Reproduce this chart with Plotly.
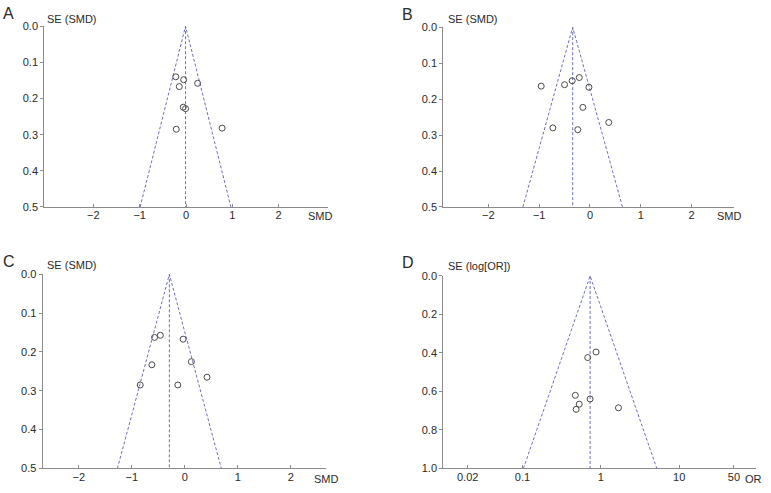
import numpy as np
import plotly.graph_objects as go

# ---------------- data ----------------
# Panel A (SMD)
a_smd = [-0.22, -0.05, -0.145, 0.25, -0.06, -0.01, -0.21, 0.78]
a_se = [0.140, 0.148, 0.167, 0.158, 0.224, 0.228, 0.285, 0.282]
a_summary = -0.01

# Panel B (SMD)
b_smd = [-0.96, -0.50, -0.35, -0.21, -0.02, -0.14, 0.37, -0.73, -0.24]
b_se = [0.164, 0.160, 0.149, 0.140, 0.167, 0.223, 0.265, 0.280, 0.285]
b_summary = -0.34

# Panel C (SMD)
c_smd = [-0.57, -0.46, -0.03, -0.62, 0.125, 0.42, -0.84, -0.13]
c_se = [0.1625, 0.157, 0.167, 0.233, 0.225, 0.265, 0.285, 0.285]
c_summary = -0.29

# Panel D (OR)
d_or = [0.87, 0.68, 0.473, 0.73, 0.53, 0.484, 1.68]
d_se = [0.395, 0.424, 0.620, 0.639, 0.666, 0.693, 0.685]
d_summary = 0.73

smd_ticks = [-2, -1, 0, 1, 2]
smd_ticklabels = ["\u22122", "\u22121", "0", "1", "2"]
se_ticks_smd = [0.0, 0.1, 0.2, 0.3, 0.4, 0.5]
or_ticks = [0.02, 0.1, 1, 10, 50]
or_ticklabels = ["0.02", "0.1", "1", "10", "50"]
se_ticks_or = [0.0, 0.2, 0.4, 0.6, 0.8, 1.0]
Z = 1.96

# ---------------- layout helpers ----------------
W, H = 771, 493
FONT = "Liberation Sans, Arial, sans-serif"
AXIS_COL = "#8a8a8a"
TXT = "#2a2a2a"
DASH_COL = "#6b70b8"


def dx(a, b):
    return [a / W, b / W]


def dy(top, bottom):
    return [1 - bottom / H, 1 - top / H]


fig = go.Figure()

panels = [
    ("1", a_smd, a_se, a_summary, 0.5, (44.3, 327.7), (20.7, 206), [-3.06, 3.06], False),
    ("2", b_smd, b_se, b_summary, 0.5, (443.3, 734.3), (21.7, 206), [-2.886, 2.84], False),
    ("3", c_smd, c_se, c_summary, 0.5, (42.7, 325.7), (275, 474), [-2.68, 2.66], False),
    ("4", d_or, d_se, d_summary, 1.0, (443.3, 756), (276.7, 474), [-2.01, 1.98], True),
]

for name, xs, ses, summ, semax, xd, yd, xr, is_log in panels:
    xa = "x" if name == "1" else "x" + name
    ya = "y" if name == "1" else "y" + name
    if is_log:
        lo = float(np.exp(np.log(summ) - Z * semax))
        hi = float(np.exp(np.log(summ) + Z * semax))
    else:
        lo = summ - Z * semax
        hi = summ + Z * semax
    fig.add_trace(go.Scatter(x=[lo, summ, hi], y=[semax, 0, semax], mode="lines",
                             line=dict(color=DASH_COL, width=1, dash="3px,2px"),
                             xaxis=xa, yaxis=ya, showlegend=False, hoverinfo="skip"))
    fig.add_trace(go.Scatter(x=[summ, summ], y=[0, semax], mode="lines",
                             line=dict(color=DASH_COL, width=1, dash="3px,2px"),
                             xaxis=xa, yaxis=ya, showlegend=False, hoverinfo="skip"))
    fig.add_trace(go.Scatter(x=xs, y=ses, mode="markers",
                             marker=dict(symbol="circle-open", size=6,
                                         color="#4a4a4a", line=dict(width=1, color="#4a4a4a")),
                             xaxis=xa, yaxis=ya, showlegend=False))

    xkey = "xaxis" if name == "1" else "xaxis" + name
    ykey = "yaxis" if name == "1" else "yaxis" + name
    xaxis = dict(domain=dx(*xd), range=xr, anchor=ya, showgrid=False, zeroline=False,
                 showline=True, linecolor=AXIS_COL, linewidth=1.2,
                 ticks="inside", ticklen=3, tickcolor=AXIS_COL,
                 ticklabelstandoff=-2,
                 tickfont=dict(family=FONT, size=11, color=TXT))
    if is_log:
        xaxis.update(type="log", tickvals=or_ticks, ticktext=or_ticklabels)
    else:
        xaxis.update(tickvals=smd_ticks, ticktext=smd_ticklabels)
    yaxis = dict(domain=dy(*yd), range=[semax, 0], anchor=xa, showgrid=False, zeroline=False,
                 showline=True, linecolor=AXIS_COL, linewidth=1.2,
                 ticks="outside", ticklen=3, tickcolor=AXIS_COL,
                 tickvals=se_ticks_or if is_log else se_ticks_smd,
                 tickformat=".1f",
                 tickfont=dict(family=FONT, size=11, color=TXT))
    fig.layout[xkey] = xaxis
    fig.layout[ykey] = yaxis

annots = [
    ("A", 1, 8, "left", 16), ("B", 400, 9, "left", 16),
    ("C", 1, 262, "left", 16), ("D", 400, 263, "left", 16),
    ("SE (SMD)", 45, 13, "left", 11), ("SE (SMD)", 446, 13, "left", 11),
    ("SE (SMD)", 45, 265, "left", 11), ("SE (log[OR])", 446, 266, "left", 11),
    ("SMD", 335, 215, "right", 11), ("SMD", 744, 215, "right", 11),
    ("SMD", 341, 485, "right", 11), ("OR", 764, 485, "right", 11),
]
for text, px, py, anc, sz in annots:
    fig.add_annotation(x=px / W, y=1 - py / H, xref="paper", yref="paper", text=text,
                       showarrow=False, xanchor=anc, yanchor="middle",
                       font=dict(family=FONT, size=sz, color=TXT))

fig.update_layout(width=W, height=H, margin=dict(l=0, r=0, t=0, b=0),
                  paper_bgcolor="white", plot_bgcolor="white")

fig.write_html("out.html",
               config={"displayModeBar": False},
               post_script="document.body.style.margin='0';document.body.style.overflow='hidden';")
